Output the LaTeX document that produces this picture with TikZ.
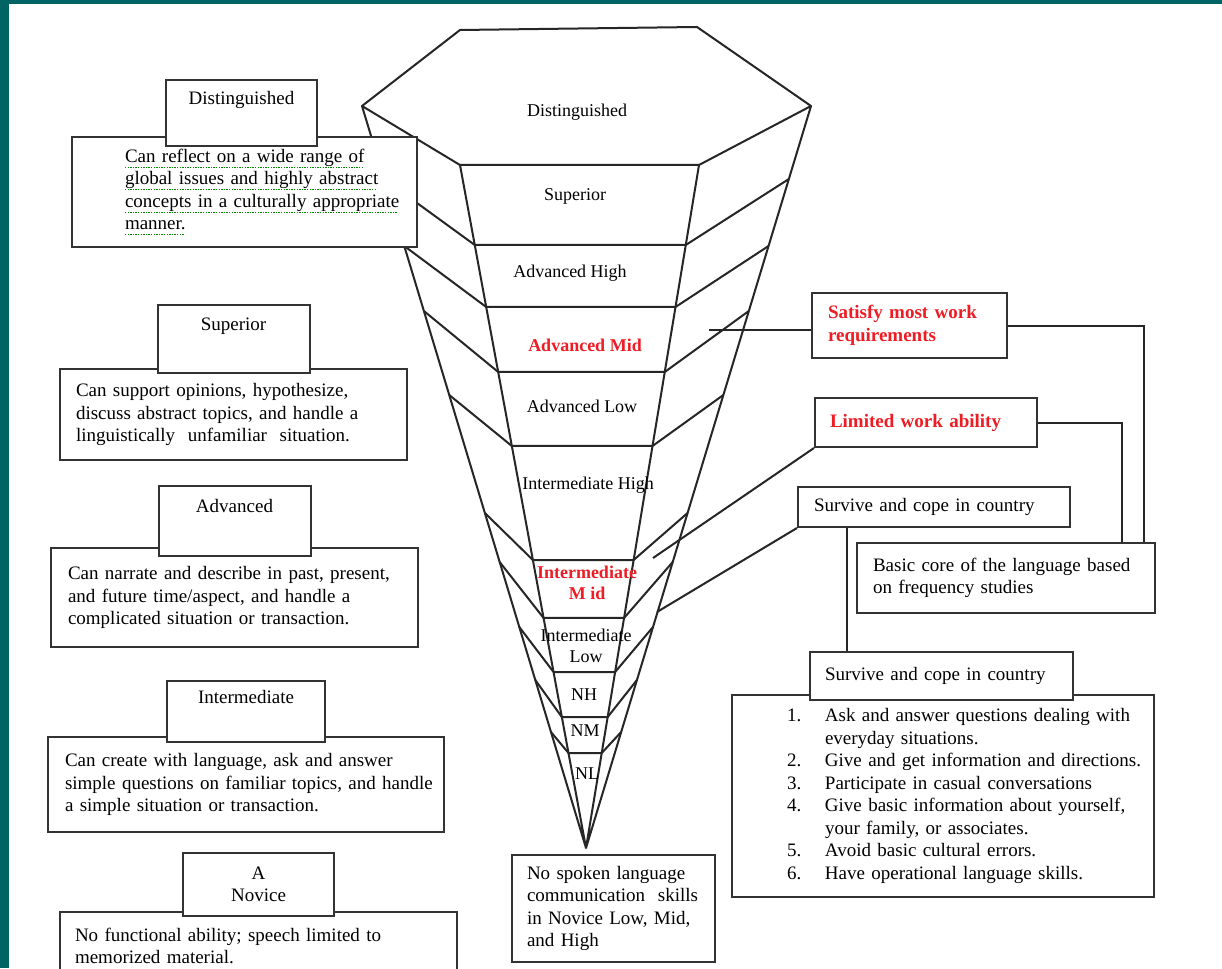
\documentclass[tikz,border=0pt]{standalone}
\usepackage{fontspec}
\setmainfont{Liberation Serif}
\usetikzlibrary{positioning,calc}

\definecolor{frameteal}{RGB}{0,100,100}
\definecolor{levelred}{RGB}{238,28,36}
\newcommand\boxfont{\fontsize{19}{22.5}\selectfont}
\newcommand\levelfont{\fontsize{18}{21}\selectfont}
\newsavebox\spellbox
\newcommand\spellmark[1]{\leavevmode\sbox\spellbox{#1}\rlap{\usebox\spellbox}\lower5pt\hbox to\wd\spellbox{\color{green!55!black}\leaders\hbox{\rule{1.4pt}{0.9pt}\kern1.2pt}\hfill}}

\begin{document}
\begin{tikzpicture}[x=1pt,y=-1pt,
  funnel/.style={draw=black!85, line width=2pt, line join=round},
  link/.style={draw=black!85, line width=2pt},
  descbox/.style={draw=black!80, line width=2pt, fill=white, inner xsep=6pt, inner ysep=0pt, align=left, font=\boxfont},
  titlebox/.style={draw=black!80, line width=2pt, fill=white, inner sep=0pt, align=center, font=\boxfont},
  lpad/.style={execute at begin node={\leftskip=#1\relax}},
  level/.style={inner sep=0pt, align=center, font=\levelfont},
  redlevel/.style={level, text=levelred, font=\levelfont\bfseries}]
		\useasboundingbox (0,0) rectangle (1222,968);
		\clip (0,0) rectangle (1222,968);
		\fill[white] (0,0) rectangle (1222,968);
		\fill[frameteal] (0,0) rectangle (9,968);
		\fill[frameteal] (0,0) rectangle (1222,4);

		\coordinate (hTL) at (460,30);
		\coordinate (hTR) at (697,27);
		\coordinate (hR) at (811,106);
		\coordinate (hFR) at (699,165);
		\coordinate (hFL) at (460,165);
		\coordinate (hL) at (362,106);
		\coordinate (tip) at (586,848);
		\draw[funnel] (hTL) -- (hTR) -- (hR) -- (hFR) -- (hFL) -- (hL) -- cycle;
		\draw[funnel] (hL) -- (tip) -- (hR) (hFL) -- (tip) -- (hFR);
		\foreach \fy/\oy in {245/179,307/246,372/311,446/395,560/513,618/562,672/627,717/680,753/732}
			\draw[funnel] ($(hL)!{(\oy-106)/742}!(tip)$) -- ($(hFL)!{(\fy-165)/683}!(tip)$)
				-- ($(hFR)!{(\fy-165)/683}!(tip)$) -- ($(hR)!{(\oy-106)/742}!(tip)$);

		\node (fDist) [level] at (577,112) {Distinguished};
		\node (fSup) [level] at (575,196) {Superior};
		\node (fAH) [level] at (570,273) {Advanced High};
		\node (fAM) [redlevel] at (585,345) {Advanced Mid};
		\node (fAL) [level] at (582,406) {Advanced Low};
		\node (fIH) [level] at (588,485) {Intermediate High};
		\node (fIM) [redlevel] at (587,583) {Intermediate\\M id};
		\node (fIL) [level] at (586,646) {Intermediate\\Low};
		\node (fNH) [level] at (584,695) {NH};
		\node (fNM) [level] at (585,731) {NM};
		\node (fNL) [level] at (587,774) {NL};

		\node (dDesc) [descbox, text width=333pt, minimum height=110pt, lpad=47pt] at (244.5,192)
			{\spellmark{Can reflect on a wide range of}\\ \spellmark{global issues and highly abstract}\\
			 \spellmark{concepts in a culturally appropriate}\\ \spellmark{manner.}};
		\node (dTitle) [titlebox, minimum width=151pt, minimum height=66pt, above=-11pt of dDesc.north, xshift=-3pt] {Distinguished\\\strut};
		\node (sDesc) [descbox, text width=335pt, minimum height=91pt, lpad=10pt] at (233.5,414.5)
			{Can support opinions, hypothesize,\\ discuss abstract topics, and handle a\\ linguistically\ \ unfamiliar\ \ situation.};
		\node (sTitle) [titlebox, minimum width=152pt, minimum height=68pt, above=-6pt of sDesc.north] {Superior\\\strut};
		\node (aDesc) [descbox, text width=355pt, minimum height=99pt, lpad=11pt] at (234.5,597.5)
			{Can narrate and describe in past, present,\\ and future time/aspect, and handle a\\ complicated situation or transaction.};
		\node (aTitle) [titlebox, minimum width=152pt, minimum height=70pt, above=-10pt of aDesc.north] {Advanced\\\strut};
		\node (iDesc) [descbox, text width=384pt, minimum height=95pt, lpad=11pt] at (246,784.5)
			{Can create with language, ask and answer\\ simple questions on familiar topics, and handle\\ a simple situation or transaction.};
		\node (iTitle) [titlebox, minimum width=158pt, minimum height=61pt, above=-7pt of iDesc.north] {Intermediate\\\strut};
		\node (nDesc) [descbox, text width=385pt, minimum height=68pt, lpad=9pt] at (258.5,946)
			{No functional ability; speech limited to\\ memorized material.};
		\node (nTitle) [titlebox, minimum width=151pt, minimum height=63pt, above=-6pt of nDesc.north] {A\\Novice};

		\node (noSkills) [descbox, text width=191pt, minimum height=107pt, lpad=9pt] at (613.5,908.5)
			{No spoken language\\ communication\ \ skills\\ in Novice Low, Mid,\\ and High};

		\node (satisfy) [descbox, text width=183pt, minimum height=65pt, lpad=10pt, text=levelred, font=\boxfont\bfseries] at (909.5,325.5)
			{Satisfy most work\\ requirements};
		\node (limited) [descbox, text width=210pt, minimum height=49pt, lpad=9pt, text=levelred, font=\boxfont\bfseries] at (926,422.5)
			{Limited work ability};
		\node (surviveA) [descbox, text width=260pt, minimum height=40pt, lpad=10pt] at (934,507)
			{Survive and cope in country};
		\node (basic) [descbox, text width=286pt, minimum height=70pt, lpad=10pt] at (1006,578)
			{Basic core of the language based\\ on frequency studies};
		\node (skills) [descbox, text width=410pt, minimum height=202pt, lpad=49pt] at (943,796)
			{\makebox[38pt][l]{1.}Ask and answer questions dealing with\\ \hspace*{38pt}everyday situations.\\
			 \makebox[38pt][l]{2.}Give and get information and directions.\\
			 \makebox[38pt][l]{3.}Participate in casual conversations\\
			 \makebox[38pt][l]{4.}Give basic information about yourself,\\ \hspace*{38pt}your family, or associates.\\
			 \makebox[38pt][l]{5.}Avoid basic cultural errors.\\
			 \makebox[38pt][l]{6.}Have operational language skills.};
		\node (surviveB) [descbox, text width=251pt, minimum height=48pt, lpad=9pt, above=-7pt of skills.north, xshift=-1.5pt]
			{Survive and cope in country};

		\coordinate (amPt) at (709,330);
		\coordinate (imPt) at (653,558);
		\coordinate (ilPt) at (657,612);
		\draw[link] (amPt) -- (amPt -| satisfy.west);
		\draw[link] (limited.south west) -- (imPt);
		\draw[link] (surviveA.south west) -- (ilPt);
		\draw[link] (satisfy.east) -| ([xshift=-12pt]basic.north east);
		\draw[link] (limited.east) -| ([xshift=-34pt]basic.north east);
		\draw[link] ([xshift=50pt]surviveA.south west) -- ([xshift=50pt]surviveA.south west |- surviveB.north);
\end{tikzpicture}
\end{document}
